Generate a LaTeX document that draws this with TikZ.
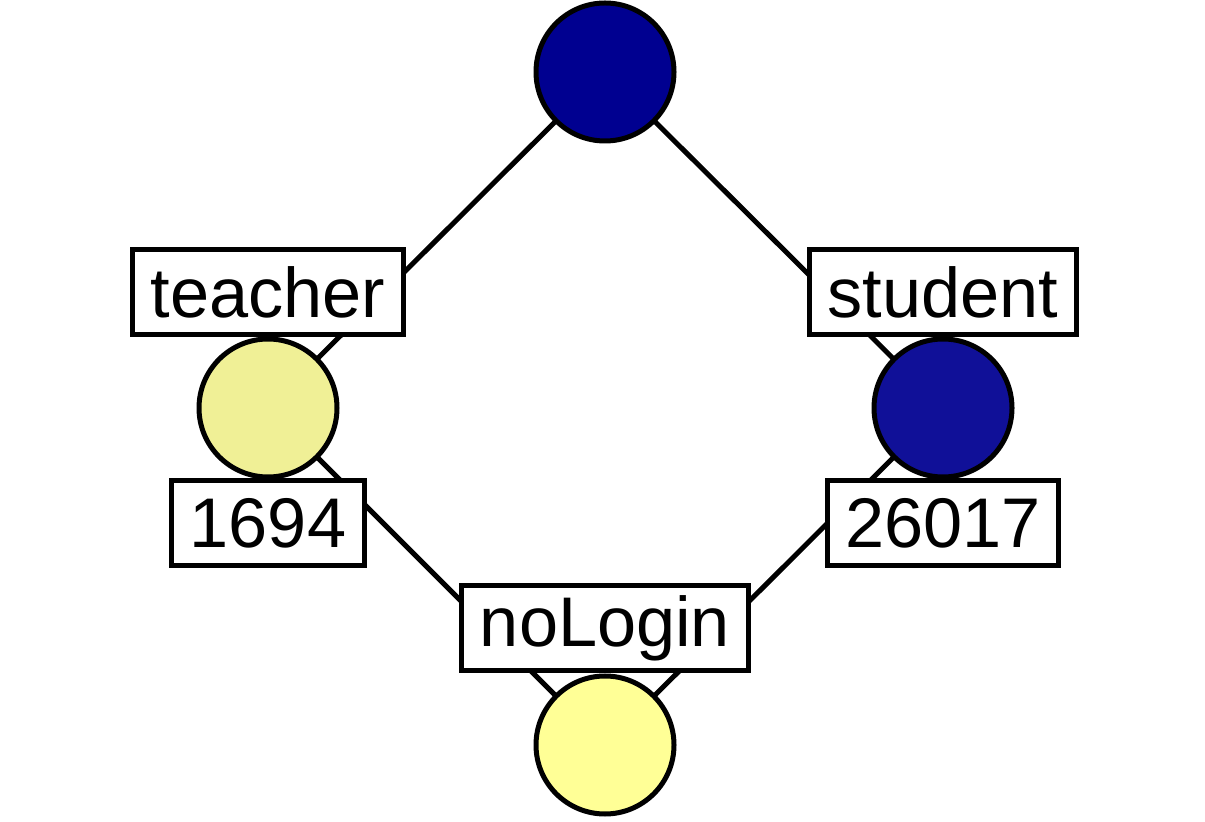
\documentclass[tikz,border=0pt]{standalone}
\usepackage{fontspec}
\setmainfont{Liberation Sans}
\usetikzlibrary{positioning,backgrounds}

\definecolor{attrblue}{RGB}{0,0,144}
\definecolor{objblue}{RGB}{16,16,152}
\definecolor{khaki}{RGB}{240,240,150}
\definecolor{paleyellow}{RGB}{255,255,150}

\begin{document}
\begin{tikzpicture}[
        concept/.style={circle, draw, line width=0.1cm, minimum size=2.76cm, inner sep=0pt},
        tag/.style={rectangle, draw, fill=white, line width=0.1cm, minimum height=1.7cm,
          inner xsep=0.36cm, inner ysep=0pt, font=\fontsize{40}{42}\selectfont},
        edge/.style={line width=0.1cm}
      ]
      \useasboundingbox (0,0) rectangle (24.1,16.42);

      % lattice nodes
      \node[concept, fill=attrblue] (top) at (12.1, 14.98) {};
      \node[concept, fill=khaki] (teachernd) at (5.36, 8.26) {};
      \node[concept, fill=objblue] (studentnd) at (18.86, 8.26) {};
      \node[concept, fill=paleyellow] (bottom) at (12.1, 1.52) {};

      % attribute and object labels
      \node[tag, above=-0.02cm of teachernd] (teacherlbl) {teacher};
      \node[tag, below=-0.02cm of teachernd] (teachercnt) {1694};
      \node[tag, above=-0.02cm of studentnd] (studentlbl) {student};
      \node[tag, below=-0.02cm of studentnd] (studentcnt) {26017};
      \node[tag, above=0cm of bottom] (nologinlbl) {noLogin};

      \begin{scope}[on background layer]
        \draw[edge] (top.center) -- (teachernd.center);
        \draw[edge] (top.center) -- (studentnd.center);
        \draw[edge] (teachernd.center) -- (bottom.center);
        \draw[edge] (studentnd.center) -- (bottom.center);
      \end{scope}

    \end{tikzpicture}
\end{document}
